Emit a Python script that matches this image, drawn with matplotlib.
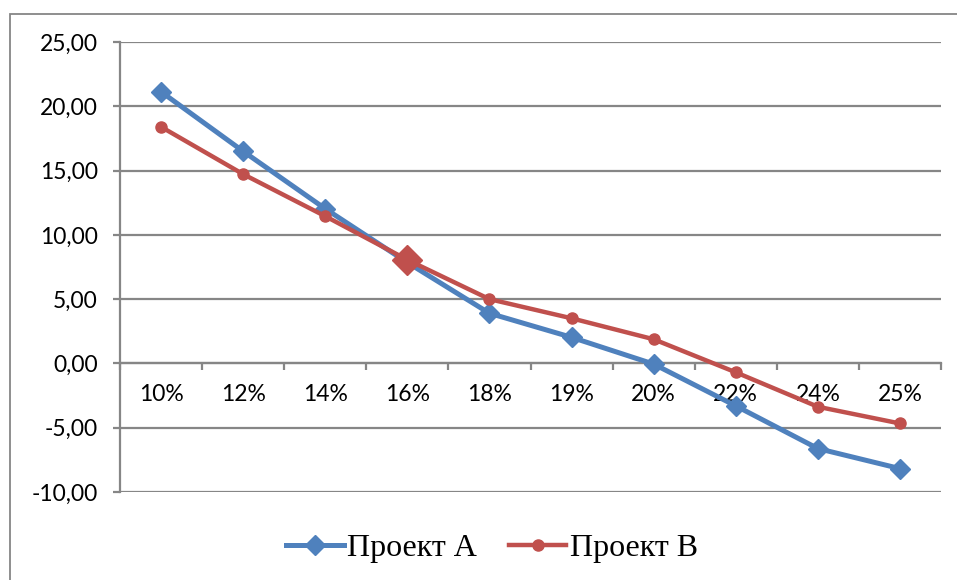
import numpy as np
import matplotlib
matplotlib.use("Agg")
import matplotlib.pyplot as plt
from matplotlib.lines import Line2D
from matplotlib.patches import Rectangle

# discount rates and NPV of both projects
rates = ["10%", "12%", "14%", "16%", "18%", "19%", "20%", "22%", "24%", "25%"]
npv_a = [21.13, 16.5, 12.03, 7.85, 3.9, 2.03, -0.05, -3.3, -6.62, -8.18]
npv_b = [18.4, 14.72, 11.45, 8.06, 5.0, 3.51, 1.88, -0.69, -3.37, -4.67]
y_ticks = [-10, -5, 0, 5, 10, 15, 20, 25]

blue = "#4F81BD"
red = "#C0504D"
grey = "#868686"
tick_font = ["Lato", "DejaVu Sans"]

W, H = 957, 580
fig = plt.figure(figsize=(W / 100, H / 100), dpi=100)

# chart area border (runs off the right and bottom edge)
fig.patches.append(Rectangle((10 / W, -0.1), 1.1, 1 - 14 / H + 0.1,
                             transform=fig.transFigure, fill=False,
                             edgecolor=grey, lw=1.3))

ax = fig.add_axes([120 / W, 1 - 492 / H, (941 - 120) / W, (492 - 42) / H])
x = np.arange(len(rates))

ax.set_xlim(-0.5, len(rates) - 0.5)
ax.set_ylim(-10, 25)

for s in ["top", "right"]:
    ax.spines[s].set_visible(False)
ax.spines["left"].set_color(grey)
ax.spines["left"].set_linewidth(1.6)
ax.spines["bottom"].set_position(("data", 0))
ax.spines["bottom"].set_color(grey)
ax.spines["bottom"].set_linewidth(1.6)

ax.set_yticks(y_ticks)
ax.set_yticklabels([f"{v:.2f}".replace(".", ",") for v in y_ticks],
                   fontsize=16.5, family=tick_font)
ax.yaxis.grid(True, color=grey, lw=1.6)
ax.set_axisbelow(True)
ax.tick_params(axis="y", length=5, width=1.6, color=grey, pad=11)

ax.set_xticks(x)
ax.set_xticklabels(rates, fontsize=16.5, family=tick_font)
ax.set_xticks(np.arange(-0.5, len(rates), 1), minor=True)
ax.tick_params(axis="x", which="major", length=0, pad=15)
ax.tick_params(axis="x", which="minor", length=5, width=1.6, color=grey)

ax.plot(x, npv_a, color=blue, lw=3.6, marker="D", ms=10, zorder=4, clip_on=False)
ax.plot(x, npv_b, color=red, lw=3.2, marker="o", ms=8, zorder=5, clip_on=False)
# highlighted point at 16%
ax.plot(x[3], npv_b[3], color=red, marker="D", ms=15.5, zorder=6, clip_on=False)

handles = [Line2D([], [], color=blue, lw=3.6, marker="D", ms=10),
           Line2D([], [], color=red, lw=3.2, marker="o", ms=8)]
fig.legend(handles, ["Проект А", "Проект В"], loc="center",
           bbox_to_anchor=(492 / W, 1 - 548 / H), ncol=2, frameon=False,
           prop={"family": "Liberation Serif", "size": 23},
           handlelength=1.8, handletextpad=0.1, columnspacing=1.0)

fig.savefig("out.png", dpi=100)
